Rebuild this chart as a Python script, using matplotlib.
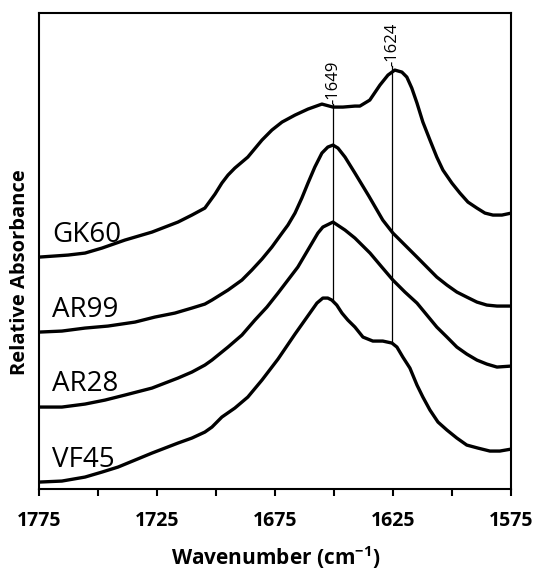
import matplotlib
matplotlib.use("Agg")
import matplotlib.pyplot as plt

plt.rcParams['font.family'] = ['Open Sans', 'DejaVu Sans']
plt.rcParams['mathtext.fontset'] = 'custom'
plt.rcParams['mathtext.rm'] = 'Open Sans:bold'
plt.rcParams['mathtext.default'] = 'rm'

# FTIR amide I spectra, relative absorbance (offset, arbitrary units)
wn_gk60 = [1775, 1762.9, 1755.7, 1748.5, 1738.8, 1727.3, 1716.3, 1710.4, 1704.9,
           1700.6, 1697.7, 1695.1, 1692.2, 1686.7, 1680.7, 1676.5, 1672.2, 1666.7, 1661.2,
           1655.3, 1650.6, 1646.4, 1641.3, 1639.2, 1635.0, 1630.7, 1627.3, 1624.4, 1621.4,
           1619.3, 1617.2, 1615.0, 1612.5, 1609.5, 1606.6, 1604.0, 1600.2, 1596.8, 1593.4,
           1589.6, 1586.2, 1582.8, 1579.0, 1575]
abs_gk60 = [2.32, 2.34, 2.36, 2.41, 2.49, 2.57, 2.67, 2.74, 2.81,
            2.95, 3.06, 3.14, 3.21, 3.32, 3.49, 3.59, 3.67, 3.74, 3.80,
            3.85, 3.82, 3.82, 3.83, 3.83, 3.89, 4.04, 4.14, 4.19, 4.17,
            4.12, 4.01, 3.86, 3.67, 3.49, 3.32, 3.19, 3.06, 2.96, 2.87,
            2.81, 2.76, 2.74, 2.74, 2.76]

wn_ar99 = [1775, 1765.5, 1755.7, 1746.0, 1734.5, 1726.1, 1717.6, 1710.4, 1704.9, 1701.9,
           1695.1, 1689.2, 1685.0, 1680.7, 1676.5, 1672.2, 1669.7, 1666.7, 1663.8, 1661.2,
           1658.3, 1655.3, 1652.8, 1650.6, 1648.5, 1645.5, 1641.3, 1635.4, 1629.5, 1625.2,
           1620.1, 1615.0, 1610.8, 1606.6, 1602.3, 1598.1, 1593.9, 1589.6, 1585.4, 1581.1,
           1575]
abs_ar99 = [1.57, 1.58, 1.61, 1.63, 1.67, 1.72, 1.76, 1.81, 1.85, 1.89,
            1.99, 2.09, 2.19, 2.30, 2.42, 2.56, 2.64, 2.76, 2.91, 3.06,
            3.22, 3.36, 3.42, 3.44, 3.41, 3.32, 3.16, 2.93, 2.69, 2.56,
            2.44, 2.32, 2.22, 2.12, 2.04, 1.97, 1.92, 1.87, 1.84, 1.83,
            1.83]

wn_ar28 = [1775, 1765.5, 1755.7, 1747.2, 1738.8, 1727.3, 1716.3, 1710.4, 1704.9, 1701.9,
           1695.1, 1689.2, 1683.7, 1678.6, 1673.9, 1669.7, 1665.5, 1662.5, 1659.5, 1657.0,
           1654.9, 1650.6, 1645.5, 1641.3, 1634.9, 1629.9, 1625.2, 1620.1, 1615.0, 1610.8,
           1606.6, 1602.3, 1598.1, 1593.9, 1589.6, 1585.4, 1581.1, 1575]
abs_ar28 = [0.82, 0.82, 0.85, 0.89, 0.94, 1.01, 1.11, 1.17, 1.24, 1.29,
            1.42, 1.54, 1.69, 1.82, 1.96, 2.09, 2.22, 2.34, 2.46, 2.56,
            2.62, 2.67, 2.59, 2.51, 2.36, 2.22, 2.09, 1.97, 1.86, 1.74,
            1.62, 1.52, 1.42, 1.35, 1.29, 1.25, 1.22, 1.23]

wn_vf45 = [1775, 1765.5, 1755.7, 1748.5, 1741.7, 1734.5, 1727.3, 1721.8, 1716.3, 1710.4,
           1704.9, 1701.9, 1697.7, 1692.2, 1686.7, 1680.7, 1673.9, 1666.7, 1659.5,
           1657.4, 1654.9, 1652.8, 1651.1, 1649.0, 1646.8, 1644.3, 1641.3, 1637.9, 1633.7,
           1629.5, 1625.6, 1623.5, 1621.0, 1618.0, 1615.0, 1612.5, 1609.5, 1606.1, 1602.3,
           1598.1, 1593.9, 1589.2, 1584.1, 1579.9, 1575]
abs_vf45 = [0.07, 0.08, 0.12, 0.17, 0.22, 0.29, 0.36, 0.41, 0.46, 0.51,
            0.57, 0.62, 0.72, 0.81, 0.92, 1.09, 1.30, 1.55, 1.79,
            1.86, 1.91, 1.91, 1.89, 1.84, 1.76, 1.69, 1.62, 1.52, 1.48,
            1.48, 1.46, 1.42, 1.32, 1.21, 1.04, 0.92, 0.79, 0.67, 0.59,
            0.51, 0.44, 0.41, 0.38, 0.38, 0.40]

series = [
    ("GK60", wn_gk60, abs_gk60, 2.47),
    ("AR99", wn_ar99, abs_ar99, 1.72),
    ("AR28", wn_ar28, abs_ar28, 0.98),
    ("VF45", wn_vf45, abs_vf45, 0.22),
]

# marker lines: position, label, top, bottom
peak_pos = [1650.6, 1625.6]
peak_labels = ["-1649", "-1624"]
peak_top = [3.85, 4.23]
peak_bottom = [1.89, 1.46]

xticks_major = [1775, 1725, 1675, 1625, 1575]
xticks_minor = [1750, 1700, 1650, 1600]

fig = plt.figure(figsize=(5.35, 5.72), dpi=100)
ax = fig.add_axes([0.0738, 0.145, 0.882, 0.833])

for name, wn, ab, label_y in series:
    ax.plot(wn, ab, color='black', lw=2.4, solid_capstyle='round', solid_joinstyle='round')
    ax.text(1769.5, label_y, name, fontsize=20, ha='left', va='baseline')

for pos, lab, top, bot in zip(peak_pos, peak_labels, peak_top, peak_bottom):
    ax.plot([pos, pos], [bot, top], color='black', lw=0.9)
    ax.text(pos, top, lab, rotation=90, fontsize=12, ha='center', va='bottom')

ax.set_xlim(1775, 1575)
ax.set_ylim(0, 4.765)
ax.set_xticks(xticks_major)
ax.set_xticks(xticks_minor, minor=True)
ax.tick_params(axis='x', which='both', direction='out', length=5, width=1.5, pad=11)
ax.tick_params(axis='x', labelsize=14)
for lbl in ax.get_xticklabels():
    lbl.set_fontweight('bold')
ax.set_yticks([])
for sp in ax.spines.values():
    sp.set_linewidth(1.5)

ax.set_xlabel("Wavenumber (cm$^{-1}$)", fontsize=15, fontweight='bold', labelpad=9)
fig.text(0.037, 0.524, "Relative Absorbance", rotation=90, fontsize=14.5, fontweight='bold',
         ha='center', va='center')

fig.savefig("out.png", dpi=100)
